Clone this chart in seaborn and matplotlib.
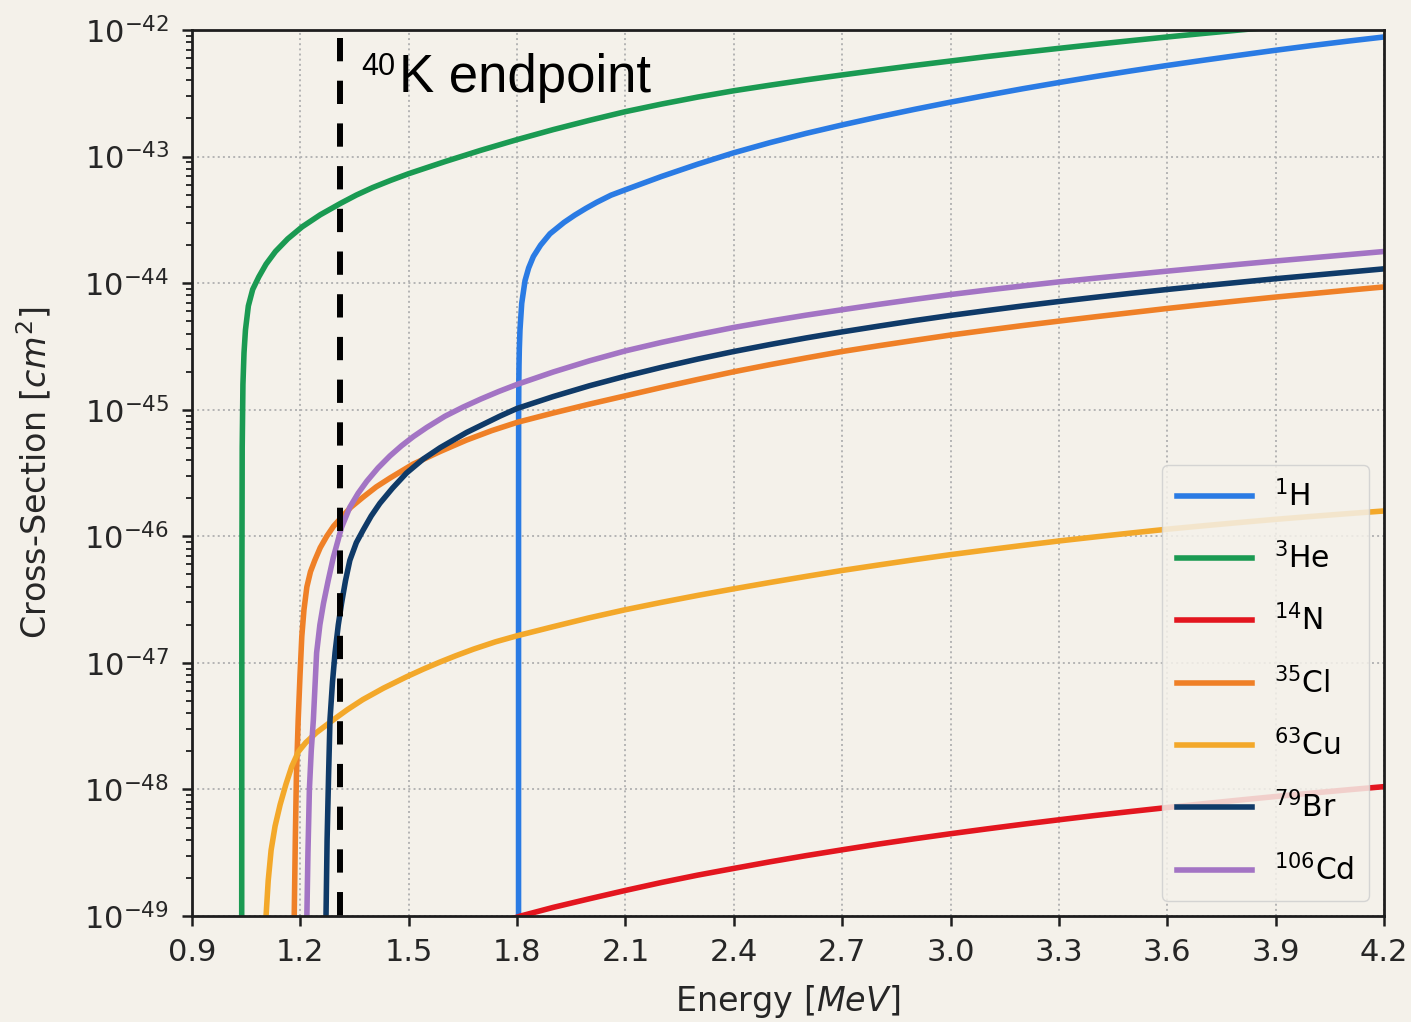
import matplotlib
matplotlib.use("Agg")
import matplotlib.pyplot as plt
import numpy as np
import pandas as pd
import seaborn as sns
from matplotlib.ticker import FixedLocator, NullFormatter, LogFormatterSciNotation

# ---------------------------------------------------------------------------
# Neutrino capture cross-sections: neutrino energy (MeV) and log10(sigma / cm^2)
# ---------------------------------------------------------------------------
isotopes = ["$^{1}$H", "$^{3}$He", "$^{14}$N", "$^{35}$Cl",
            "$^{63}$Cu", "$^{79}$Br", "$^{106}$Cd"]
colors = ["#2a7be4", "#1a9a52", "#e3161f", "#ef8027",
          "#f3a82a", "#0f3a68", "#a374c4"]

# common energy grid of the high-energy part of every curve
E_tail = [1.9, 2.0, 2.1, 2.2, 2.3, 2.4, 2.5, 2.6, 2.7, 2.8, 2.9, 3.0,
          3.1, 3.2, 3.3, 3.4, 3.5, 3.6, 3.7, 3.8, 3.9, 4.0, 4.1, 4.2]

E_H = [1.8040, 1.80405, 1.8043, 1.8047, 1.8053, 1.8062, 1.8080, 1.8128, 1.8220,
       1.8320, 1.8450, 1.8650, 1.8910, 1.930, 1.960, 1.990, 2.020, 2.060,
       2.1, 2.2, 2.3, 2.4, 2.5, 2.6, 2.7, 2.8, 2.9, 3.0, 3.1, 3.2, 3.3, 3.4,
       3.5, 3.6, 3.7, 3.8, 3.9, 4.0, 4.1, 4.2]
logsig_H = [-49.8, -45.8, -45.01, -44.80, -44.65, -44.52, -44.37, -44.16, -43.98,
            -43.88, -43.79, -43.70, -43.61, -43.52, -43.462, -43.41, -43.362,
            -43.305, -43.262, -43.157, -43.06, -42.97, -42.89, -42.817, -42.75,
            -42.687, -42.627, -42.57, -42.516, -42.464, -42.415, -42.368,
            -42.323, -42.28, -42.239, -42.199, -42.16, -42.123, -42.088, -42.055]

E_He = [1.0375, 1.0380, 1.0390, 1.0410, 1.0440, 1.0480, 1.0560, 1.0680, 1.0850,
        1.1050, 1.1310, 1.1650, 1.2050, 1.2550, 1.3110, 1.355, 1.40, 1.45, 1.5,
        1.6, 1.7, 1.8] + E_tail
logsig_He = [-49.8, -46.5, -45.3, -44.8, -44.55, -44.37, -44.18, -44.05, -43.95,
             -43.85, -43.75, -43.65, -43.555, -43.46, -43.37, -43.304, -43.245,
             -43.188, -43.135, -43.04, -42.95, -42.866,
             -42.787, -42.714, -42.645, -42.585, -42.53, -42.48, -42.436, -42.394,
             -42.355, -42.317, -42.28, -42.245, -42.21, -42.177, -42.145, -42.114,
             -42.084, -42.055, -42.027, -42.0, -41.974, -41.949, -41.925, -41.902]

E_N = [1.70, 1.81] + E_tail
logsig_N = [-49.10, -49.0,
            -48.932, -48.864, -48.798, -48.735, -48.677, -48.624, -48.572,
            -48.523, -48.477, -48.432, -48.39, -48.35, -48.312, -48.275, -48.24,
            -48.206, -48.174, -48.143, -48.113, -48.084, -48.056, -48.029,
            -48.003, -47.978]

E_Cl = [1.181, 1.183, 1.186, 1.189, 1.194, 1.199, 1.204, 1.210, 1.218, 1.228,
        1.240, 1.255, 1.273, 1.292, 1.314, 1.340, 1.374, 1.410, 1.448, 1.512,
        1.587, 1.66, 1.73, 1.8] + E_tail
logsig_Cl = [-49.8, -49.0, -48.4, -47.9, -47.45, -47.1, -46.79, -46.58, -46.40,
             -46.28, -46.19, -46.09, -46.0, -45.92, -45.85, -45.77, -45.69,
             -45.61, -45.54, -45.43, -45.33, -45.24, -45.165, -45.10,
             -45.026, -44.956, -44.89, -44.824, -44.761, -44.70, -44.644, -44.591,
             -44.54, -44.495, -44.452, -44.41, -44.372, -44.335, -44.30, -44.266,
             -44.233, -44.20, -44.169, -44.139, -44.11, -44.083, -44.056, -44.03]

E_Cu = [1.098, 1.105, 1.111, 1.119, 1.130, 1.144, 1.160, 1.176, 1.195, 1.215,
        1.245, 1.296, 1.33, 1.373, 1.43, 1.494, 1.54, 1.587, 1.63, 1.68, 1.74,
        1.8] + E_tail
logsig_Cu = [-49.6, -49.0, -48.72, -48.48, -48.29, -48.12, -47.96, -47.82, -47.70,
             -47.63, -47.55, -47.44, -47.37, -47.29, -47.20, -47.11, -47.05,
             -46.993, -46.944, -46.891, -46.834, -46.786,
             -46.714, -46.644, -46.58, -46.522, -46.467, -46.415, -46.365,
             -46.317, -46.27, -46.227, -46.185, -46.145, -46.108, -46.072,
             -46.037, -46.005, -45.974, -45.944, -45.917, -45.891, -45.866,
             -45.843, -45.821, -45.80]

E_Br = [1.269, 1.271, 1.274, 1.278, 1.282, 1.289, 1.296, 1.305, 1.314, 1.325,
        1.337, 1.355, 1.374, 1.396, 1.420, 1.455, 1.494, 1.540, 1.587, 1.66,
        1.753, 1.8] + E_tail
logsig_Br = [-49.8, -49.0, -48.4, -47.9, -47.45, -47.15, -46.92, -46.70, -46.53,
             -46.35, -46.19, -46.05, -45.95, -45.84, -45.74, -45.62, -45.50,
             -45.39, -45.30, -45.18, -45.05, -44.99,
             -44.896, -44.811, -44.735, -44.665, -44.60, -44.54, -44.485,
             -44.433, -44.385, -44.34, -44.296, -44.255, -44.217, -44.18,
             -44.145, -44.112, -44.08, -44.05, -44.021, -43.993, -43.965,
             -43.939, -43.913, -43.887]

E_Cd = [1.216, 1.218, 1.221, 1.225, 1.230, 1.236, 1.245, 1.254, 1.264, 1.277,
        1.291, 1.314, 1.337, 1.360, 1.384, 1.415, 1.448, 1.48, 1.513, 1.55,
        1.60, 1.65, 1.70, 1.75, 1.80] + E_tail
logsig_Cd = [-49.8, -49.0, -48.5, -48.0, -47.7, -47.45, -46.92, -46.70, -46.53,
             -46.35, -46.17, -45.93, -45.77, -45.66, -45.565, -45.46, -45.365,
             -45.285, -45.212, -45.14, -45.052, -44.98, -44.915, -44.855, -44.80,
             -44.702, -44.614, -44.535, -44.468, -44.407, -44.35, -44.30,
             -44.253, -44.21, -44.168, -44.128, -44.09, -44.055, -44.022,
             -43.99, -43.961, -43.933, -43.905, -43.878, -43.851, -43.825,
             -43.80, -43.775, -43.75]

K40_ENDPOINT = 1.311          # MeV
K40_LINE_TOP = -42.063        # log10 of the upper end of the marker line

x_ticks = [0.9, 1.2, 1.5, 1.8, 2.1, 2.4, 2.7, 3.0, 3.3, 3.6, 3.9, 4.2]
y_decades = [-49, -48, -47, -46, -45, -44, -43, -42]
x_range = (0.9, 4.2)
y_range = (1e-49, 1e-42)

series = [(E_H, logsig_H), (E_He, logsig_He), (E_N, logsig_N), (E_Cl, logsig_Cl),
          (E_Cu, logsig_Cu), (E_Br, logsig_Br), (E_Cd, logsig_Cd)]

frames = []
for name, (e, ls) in zip(isotopes, series):
    frames.append(pd.DataFrame({"energy": e,
                                "sigma": np.power(10.0, ls),
                                "isotope": name}))
df = pd.concat(frames, ignore_index=True)

# ---------------------------------------------------------------------------
BG = "#f4f1ea"
TXT = "#262626"
plt.rcParams.update({
    "font.family": ["DejaVu Sans"],
    "mathtext.fontset": "dejavusans",
    "axes.edgecolor": "#1e1e1e",
    "axes.linewidth": 2.0,
})

fig = plt.figure(figsize=(14.11, 10.22), dpi=100, facecolor=BG)
W, H = 1411, 1022
ax = fig.add_axes([192 / W, 1 - 916 / H, (1384 - 192) / W, (916 - 30) / H])
ax.set_facecolor(BG)

LW = 4.0
sns.lineplot(data=df, x="energy", y="sigma", hue="isotope",
             hue_order=isotopes, palette=dict(zip(isotopes, colors)),
             estimator=None, sort=False, linewidth=LW, ax=ax, legend=True)

ax.set_yscale("log")
ax.set_xlim(*x_range)
ax.set_ylim(*y_range)

# 40K endpoint marker
ax.plot([K40_ENDPOINT, K40_ENDPOINT], [10 ** K40_LINE_TOP, y_range[0]],
        color="black", linewidth=4.3, dashes=(3.9, 3.25), zorder=6,
        dash_capstyle="butt")

fig.text(361 / W, 1 - 75 / H, "40", fontsize=22, family="Liberation Sans",
         ha="left", va="baseline", color="black")
fig.text(399 / W, 1 - 92 / H, "K endpoint", fontsize=38, family="Liberation Sans",
         ha="left", va="baseline", color="black")

# axes and ticks
ax.xaxis.set_major_locator(FixedLocator(x_ticks))
ax.set_xticklabels([f"{v:.1f}" for v in x_ticks])
ax.xaxis.set_minor_locator(FixedLocator([]))

y_major = [10.0 ** d for d in y_decades]
y_minor = [m * 10.0 ** d for d in y_decades[:-1] for m in range(2, 10)]
ax.yaxis.set_major_locator(FixedLocator(y_major))
ax.yaxis.set_major_formatter(LogFormatterSciNotation(base=10))
ax.yaxis.set_minor_locator(FixedLocator(y_minor))
ax.yaxis.set_minor_formatter(NullFormatter())

ax.tick_params(axis="both", which="major", direction="out", length=7.5,
               width=1.8, labelsize=22, labelcolor=TXT, color="#1e1e1e")
ax.tick_params(axis="x", which="major", pad=8)
ax.tick_params(axis="y", which="major", pad=9)
ax.tick_params(axis="y", which="minor", direction="out", length=4, width=1.3,
               color="#1e1e1e")
ax.tick_params(top=False, right=False)

ax.grid(True, which="major", linestyle=":", color="#b4b4b4", linewidth=1.4)
ax.set_axisbelow(True)

ax.set_xlabel("Energy [$MeV$]", fontsize=24, color=TXT, labelpad=12)
ax.set_ylabel("Cross-Section [$cm^2$]", fontsize=24, color=TXT, labelpad=22)

handles, labels = ax.get_legend_handles_labels()
leg = ax.legend(handles, labels, loc="lower right", fontsize=21.5,
                handlelength=2.5, handletextpad=0.75, labelspacing=1.0,
                borderpad=0.5, borderaxespad=0.5, frameon=True,
                facecolor=BG, edgecolor="#cfcfcf", framealpha=0.85,
                fancybox=True)
for ln in leg.get_lines():
    ln.set_linewidth(LW)
leg.set_zorder(10)

fig.savefig("out.png", dpi=100, facecolor=BG)
